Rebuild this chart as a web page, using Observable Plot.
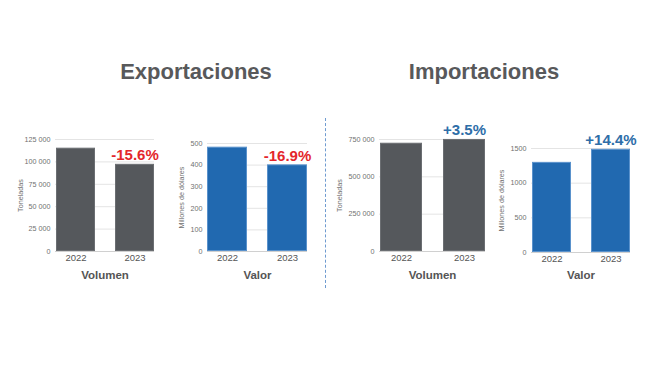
<!DOCTYPE html>
<html>
<head>
<meta charset="utf-8">
<script src="https://cdn.jsdelivr.net/npm/d3@7"></script>
<script src="https://cdn.jsdelivr.net/npm/@observablehq/plot@0.6"></script>
<style>
  html, body { margin: 0; padding: 0; background: #fff; }
  #root { position: relative; width: 650px; height: 366px; overflow: hidden; font-family: "Liberation Sans", Arial, sans-serif; }
  .title { position: absolute; top: 59px; width: 280px; text-align: center; font-size: 22px; font-weight: bold; color: #58595b; }
  .panel { position: absolute; }
  .divider { position: absolute; left: 325px; top: 118px; height: 170px; border-left: 1.2px dashed #6f9bd0; }
</style>
</head>
<body>
<div id="root">
  <div class="title" style="left:56px">Exportaciones</div>
  <div class="title" style="left:344px">Importaciones</div>
  <div class="divider"></div>
  <div class="panel" id="p1" style="left:0px;top:120px"></div>
  <div class="panel" id="p2" style="left:160px;top:120px"></div>
  <div class="panel" id="p3" style="left:330px;top:120px"></div>
  <div class="panel" id="p4" style="left:495px;top:120px"></div>
</div>
<script>
// ---- data ----
const years = ["2022", "2023"];
const expVolumen = [115300, 97300];      // toneladas
const expValor = [483, 401];             // millones de dólares
const impVolumen = [725000, 750400];     // toneladas
const impValor = [1300, 1488];           // millones de dólares
const changeLabels = ["-15.6%", "-16.9%", "+3.5%", "+14.4%"];
const expVolTicks = [0, 25000, 50000, 75000, 100000, 125000];
const expValTicks = [0, 100, 200, 300, 400, 500];
const impVolTicks = [0, 250000, 500000, 750000];
const impValTicks = [0, 500, 1000, 1500];
const yLabels = ["Toneladas", "Millones de dólares", "Toneladas", "Millones de dólares"];
const xLabels = ["Volumen", "Valor", "Volumen", "Valor"];

const GREY = "#55585c", GREY_EDGE = "#6b6e72";
const BLUE = "#2169b0", BLUE_EDGE = "#5a92cc";
const RED_TXT = "#e3262b", BLUE_TXT = "#2e6ea8";

function fmt(n) {
  if (n < 10000) return String(n);
  return d3.format(",")(n).replace(/,/g, " ");
}

function panel(sel, values, ticks, yLabel, xLabel, change, opts) {
  const data = years.map((y, i) => ({year: y, value: values[i]}));
  const chart = Plot.plot({
    width: opts.width, height: opts.height,
    marginLeft: opts.ml, marginRight: opts.mr, marginTop: opts.mt, marginBottom: opts.mb,
    style: {fontFamily: "'Liberation Sans', Arial, sans-serif", background: "transparent", color: "#707070"},
    x: {domain: years, paddingInner: 0.34, paddingOuter: 0.0, label: null},
    y: {domain: [0, ticks[ticks.length - 1]], label: null},
    marks: [
      Plot.gridY(ticks, {stroke: "#e4e4e4", strokeOpacity: 1}),
      Plot.barY(data, {x: "year", y: "value", fill: opts.fill, stroke: opts.edge, strokeWidth: 1, inset: 0.5}),
      Plot.ruleY([0], {stroke: "#d0d0d0"}),
      Plot.axisX({tickSize: 0, tickPadding: 3, fontSize: 9.5, fill: "#555", label: null}),
      Plot.axisY({ticks, tickSize: 0, tickPadding: 5, fontSize: 7.2, fill: "#707070",
                  tickFormat: fmt, label: yLabel, labelAnchor: "center", labelArrow: "none",
                  labelOffset: opts.lo}),
      Plot.text([xLabel], {frameAnchor: "bottom", dy: opts.xdy, fontSize: 11.5, fontWeight: "bold", fill: "#555"}),
      Plot.text([data[1]], {x: "year", y: "value", text: () => change, dy: -9,
                            fontSize: 15, fontWeight: "bold", fill: opts.changeColor})
    ]
  });
  document.querySelector(sel).append(chart);
}

panel("#p1", expVolumen, expVolTicks, yLabels[0], xLabels[0], changeLabels[0],
  {width: 170, height: 170, ml: 55, mr: 16, mt: 19, mb: 39, lo: 38, xdy: 27, fill: GREY, edge: GREY_EDGE, changeColor: RED_TXT});
panel("#p2", expValor, expValTicks, yLabels[1], xLabels[1], changeLabels[1],
  {width: 160, height: 170, ml: 47, mr: 13, mt: 23, mb: 39, lo: 29, xdy: 27, fill: BLUE, edge: BLUE_EDGE, changeColor: RED_TXT});
panel("#p3", impVolumen, impVolTicks, yLabels[2], xLabels[2], changeLabels[2],
  {width: 165, height: 170, ml: 49, mr: 10, mt: 19, mb: 39, lo: 43, xdy: 27, fill: GREY, edge: GREY_EDGE, changeColor: BLUE_TXT});
panel("#p4", impValor, impValTicks, yLabels[3], xLabels[3], changeLabels[3],
  {width: 155, height: 170, ml: 36, mr: 20, mt: 28, mb: 38, lo: 33, xdy: 26, fill: BLUE, edge: BLUE_EDGE, changeColor: BLUE_TXT});
</script>
</body>
</html>
